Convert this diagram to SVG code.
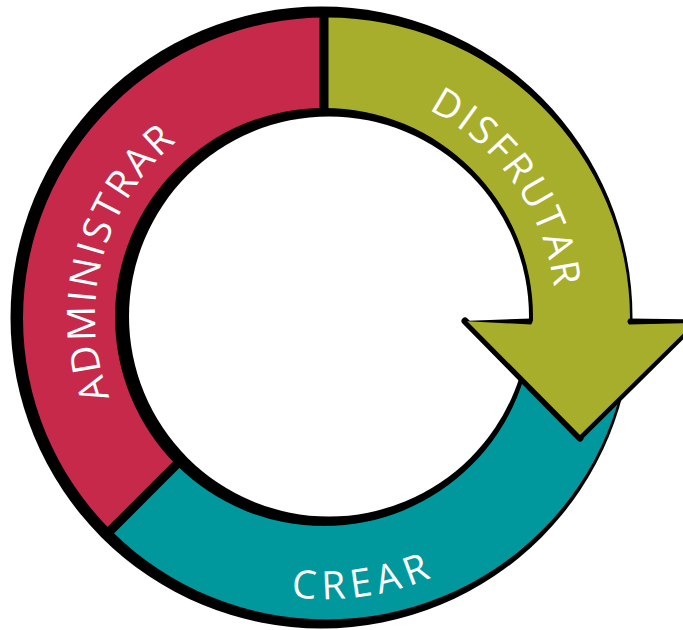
<svg xmlns="http://www.w3.org/2000/svg" width="683" height="630" viewBox="0 0 683 630">
<defs>
<style>
.lbl{font-family:"Open Sans","Liberation Sans",sans-serif;font-size:39px;fill:#fff;}
.red{fill:#c6294a;}
.olive{fill:#a7ae2b;}
.teal{fill:#00979d;}
.ink{fill:#000;}
.div{stroke:#000;stroke-width:9;fill:none;}
</style>
<clipPath id="band" clip-rule="evenodd">
<path clip-rule="evenodd" d="M23,318.5 A303.5,301 0 1 0 630,318.5 A303.5,301 0 1 0 23,318.5 Z M115,317 A209,209 0 1 0 533,317 A209,209 0 1 0 115,317 Z"/>
</clipPath>
<path id="pA" d="M148.6,464.2 A229,229 0 0 1 245.7,101.8"/>
<path id="pD" d="M324,85 A232,232 0 0 1 542,396.3"/>
<path id="pC" d="M101.8,490.6 A282,282 0 0 0 587.3,418.1"/>
</defs>
<rect width="683" height="630" fill="#fff"/>
<g id="frame">
<circle class="ink" cx="321.5" cy="317.5" r="311"/>
<circle cx="329" cy="316.5" r="200" fill="#fff"/>
</g>
<g id="crear">
<polygon class="teal" clip-path="url(#band)" points="324,317 -300,941 800,941 800,322 324,322"/>
<text class="lbl" letter-spacing="6"><textPath href="#pC" startOffset="50%" text-anchor="middle">CREAR</textPath></text>
</g>
<g id="administrar">
<polygon class="red" clip-path="url(#band)" points="324,317 324,-100 -300,-100 -300,941"/>
<text class="lbl" letter-spacing="2.6"><textPath href="#pA" startOffset="50%" text-anchor="middle">ADMINISTRAR</textPath></text>
</g>
<g id="disfrutar">
<polygon class="olive" clip-path="url(#band)" points="324,317 324,-100 800,-100 800,322 324,322"/>
<line x1="465" y1="321" x2="580" y2="438" stroke="#000" stroke-width="7" stroke-linecap="round"/>
<line x1="580" y1="438" x2="699" y2="320" stroke="#000" stroke-width="5" stroke-linecap="round"/>
<polygon class="olive" points="467,321 696,321 580,435"/>
<path class="ink" d="M462,321 L531,318.5 Q534,321.5 531,324.5 Z"/>
<path class="ink" d="M629,318.5 Q626,321.5 629,324.5 L700,323 L700,319.5 Z"/>
<text class="lbl" letter-spacing="2.8"><textPath href="#pD" startOffset="50%" text-anchor="middle">DISFRUTAR</textPath></text>
</g>
<g id="connectors">
<line class="div" x1="324" y1="8" x2="324" y2="116"/>
<line class="div" x1="182.6" y1="458.4" x2="103" y2="538"/>
</g>
</svg>
